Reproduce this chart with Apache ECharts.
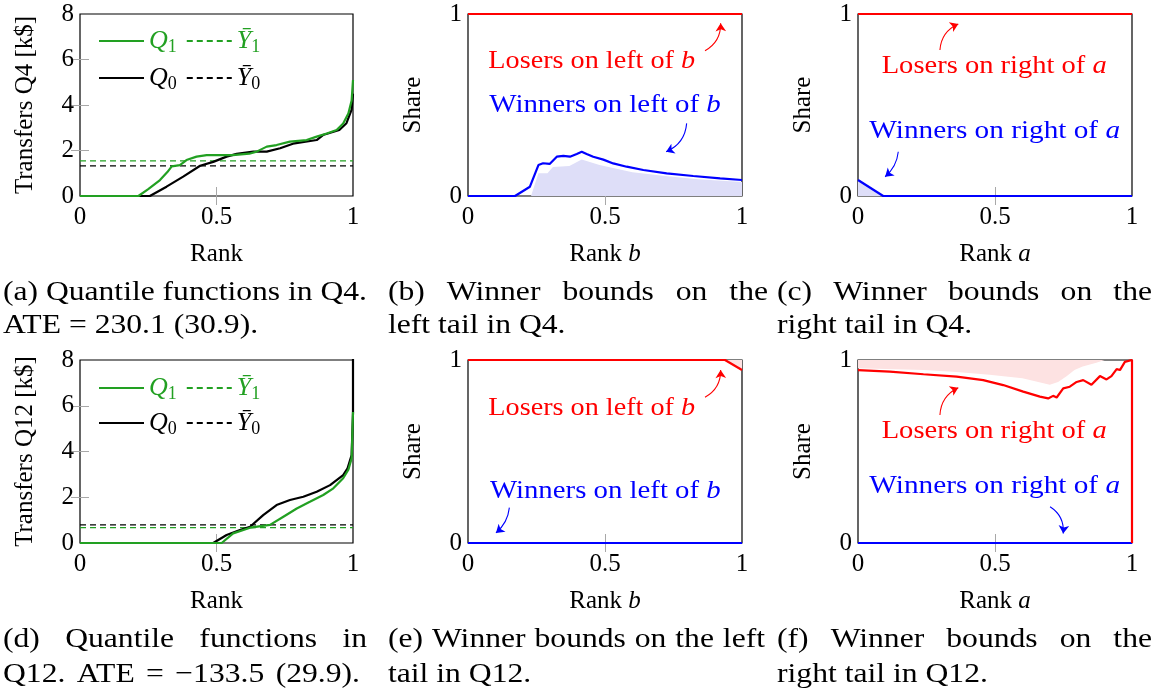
<!DOCTYPE html>
<html><head><meta charset="utf-8">
<script src="https://cdn.jsdelivr.net/npm/echarts@6/dist/echarts.min.js"></script>
<style>html,body{margin:0;padding:0;background:#fff}#c{width:1157px;height:694px}</style>
</head><body><div id="c"></div>
<script>
// ---------------- DATA ----------------
const rankTicks = [0, 0.5, 1];
const transferTicks = [0, 2, 4, 6, 8];
const shareTicks = [0, 1];

// (a) Quantile functions in Q4  [rank, k$]
const q4Q1 = [[0,0],[0.214,0],[0.25,0.3],[0.293,0.70],[0.32,1.05],[0.336,1.30],[0.366,1.36],[0.39,1.58],[0.427,1.73],[0.464,1.80],[0.56,1.80],[0.62,1.86],[0.647,1.95],[0.684,2.17],[0.72,2.24],[0.769,2.39],[0.83,2.46],[0.867,2.61],[0.904,2.75],[0.94,2.90],[0.964,3.19],[0.983,3.63],[0.995,4.20],[1,5.10]];
const q4Q0 = [[0,0],[0.256,0],[0.317,0.41],[0.378,0.85],[0.44,1.33],[0.488,1.50],[0.537,1.73],[0.574,1.85],[0.635,1.95],[0.684,1.95],[0.733,2.10],[0.78,2.30],[0.867,2.46],[0.89,2.68],[0.95,2.90],[0.976,3.20],[0.995,3.80],[1,4.50]];
const q4Ybar1 = 1.54;
const q4Ybar0 = 1.32;

// (b) Winner bounds, left tail, Q4  [rank b, share]
const q4LeftWinners = [[0,0],[0.1715,0],[0.226,0.051],[0.257,0.17],[0.274,0.18],[0.298,0.176],[0.324,0.216],[0.348,0.22],[0.372,0.216],[0.397,0.231],[0.415,0.243],[0.433,0.231],[0.457,0.216],[0.494,0.2],[0.53,0.179],[0.579,0.161],[0.64,0.143],[0.725,0.124],[0.822,0.11],[0.92,0.097],[1,0.088]];
const q4LeftWinnersLow = [[0.23,0],[0.257,0.125],[0.29,0.125],[0.31,0.16],[0.37,0.165],[0.415,0.2],[0.48,0.17],[0.6,0.13],[0.72,0.11],[0.84,0.092],[1,0.077]];
const q4LeftLosers = [[0,1],[1,1]];

// (c) Winner bounds, right tail, Q4  [rank a, share]
const q4RightWinners = [[0,0.088],[0.092,0],[1,0]];
const q4RightWinnersLow = [[0,0.088],[0.092,0]];
const q4RightLosers = [[0,1],[1,1]];

// (d) Quantile functions in Q12
const q12Q1 = [[0,0],[0.519,0],[0.561,0.42],[0.623,0.67],[0.696,0.79],[0.745,1.15],[0.794,1.51],[0.842,1.80],[0.891,2.10],[0.928,2.39],[0.964,2.83],[0.983,3.20],[0.995,3.70],[1,5.73]];
const q12Q0 = [[0,0],[0.488,0],[0.537,0.35],[0.586,0.57],[0.623,0.71],[0.671,1.22],[0.72,1.66],[0.769,1.88],[0.818,2.02],[0.867,2.24],[0.916,2.53],[0.964,2.97],[0.98,3.26],[0.995,3.84],[1,5.7],[1,9]];
const q12Ybar1 = 0.67;
const q12Ybar0 = 0.79;

// (e) Winner bounds, left tail, Q12
const q12LeftLosers = [[0,1],[0.938,1],[1,0.945]];
const q12LeftWinners = [[0,0],[1,0]];

// (f) Winner bounds, right tail, Q12
const q12RightLosers = [[0,0.945],[0.116,0.936],[0.239,0.922],[0.36,0.909],[0.457,0.89],[0.53,0.863],[0.603,0.827],[0.664,0.8],[0.694,0.79],[0.712,0.804],[0.725,0.795],[0.749,0.845],[0.773,0.854],[0.798,0.88],[0.822,0.89],[0.852,0.865],[0.883,0.912],[0.907,0.894],[0.925,0.912],[0.944,0.95],[0.956,0.945],[0.974,0.99],[0.98,1],[1,1],[1,0]];
const q12RightLosersHigh = [[0,0.955],[0.24,0.945],[0.36,0.935],[0.48,0.92],[0.6,0.9],[0.7,0.865],[0.73,0.88],[0.76,0.91],[0.79,0.945],[0.82,0.965],[0.87,0.985],[0.9,1],[1,1]];
const q12RightWinners = [[0,0],[1,0]];

// ---------------- STYLE / LAYOUT ----------------
const FONT = 'Liberation Serif';
const GREEN = '#22a022', BLUE = '#0000ff', RED = '#ff0000', BLACK = '#000';
const LAVENDER = '#dedef8', PINK = '#fde2e2', TICKGRAY = '#a8a8a8';

const grids = [
  {left:80, top:14, width:273, height:182},
  {left:468, top:14, width:274, height:182},
  {left:858, top:14, width:274, height:182},
  {left:80, top:360, width:273, height:183},
  {left:468, top:360, width:274, height:183},
  {left:858, top:360, width:274, height:183}
].map(g => Object.assign({show:true, borderColor:'#000', borderWidth:1.2, backgroundColor:'transparent', containLabel:false}, g));

const panelCfg = [
  {yMax:8, yInt:2, yInner:[2,4,6], xName:'{n|Rank}', yName:'Transfers Q4 [k$]'},
  {yMax:1, yInt:1, yInner:[], xName:'{n|Rank }{i|b}', yName:'Share'},
  {yMax:1, yInt:1, yInner:[], xName:'{n|Rank }{i|a}', yName:'Share'},
  {yMax:8, yInt:2, yInner:[2,4,6], xName:'{n|Rank}', yName:'Transfers Q12 [k$]'},
  {yMax:1, yInt:1, yInner:[], xName:'{n|Rank }{i|b}', yName:'Share'},
  {yMax:1, yInt:1, yInner:[], xName:'{n|Rank }{i|a}', yName:'Share'}
];

const tickStyle = {color:TICKGRAY, width:1};
const xAxes = [], yAxes = [];
panelCfg.forEach((p, gi) => {
  const base = {gridIndex:gi, type:'value', min:0, max:1, interval:0.5, splitLine:{show:false}, axisLine:{show:false}};
  xAxes.push(Object.assign({}, base, {
    position:'bottom',
    axisTick:{show:true, inside:true, length:9, lineStyle:tickStyle, customValues:[0.5]},
    axisLabel:{margin:9, fontFamily:FONT, fontSize:25, color:'#000', formatter: v => String(v), customValues: rankTicks},
    name:p.xName, nameLocation:'middle', nameGap:46,
    nameTextStyle:{fontFamily:FONT, fontSize:25, color:'#000',
      rich:{n:{fontFamily:FONT, fontSize:25, color:'#000'}, i:{fontFamily:FONT, fontSize:25, fontStyle:'italic', color:'#000'}}}
  }));
  xAxes.push(Object.assign({}, base, {
    position:'top',
    axisTick:{show:true, inside:true, length:9, lineStyle:tickStyle, customValues:[0.5]},
    axisLabel:{show:false}
  }));
  const ybase = {gridIndex:gi, type:'value', min:0, max:p.yMax, interval:p.yInt, splitLine:{show:false}, axisLine:{show:false}};
  const ticks = p.yMax === 8 ? transferTicks : shareTicks;
  yAxes.push(Object.assign({}, ybase, {
    position:'left',
    axisTick:{show:p.yInner.length>0, inside:true, length:9, lineStyle:tickStyle, customValues:p.yInner},
    axisLabel:{margin:6, fontFamily:FONT, fontSize:25, color:'#000', customValues: ticks},
    name:p.yName, nameLocation:'middle', nameGap:42, nameRotate:90,
    nameTextStyle:{fontFamily:FONT, fontSize:25, color:'#000'}
  }));
  yAxes.push(Object.assign({}, ybase, {
    position:'right',
    axisTick:{show:p.yInner.length>0, inside:true, length:9, lineStyle:tickStyle, customValues:p.yInner},
    axisLabel:{show:false}
  }));
});

function lineS(name, gi, data, color, extra) {
  return Object.assign({
    type:'line', name: name, xAxisIndex:2*gi, yAxisIndex:2*gi, data: data,
    symbol:'none', showSymbol:false, silent:true, animation:false, z:3,
    lineStyle:{color:color, width:2.2}, itemStyle:{color:color}
  }, extra || {});
}
function fillS(gi, data, color, origin) {
  return {type:'line', xAxisIndex:2*gi, yAxisIndex:2*gi, data:data, symbol:'none', silent:true, animation:false, z:1,
    lineStyle:{width:0, color:color}, itemStyle:{color:color},
    areaStyle:{color:color, opacity:1, origin: origin || 'auto'}};
}
const dashStyle = {width:1.3, type:[6,4]};
function hline(v){ return [[0, v], [1, v]]; }

function arrowS(gi, from, to, color, curv) {
  return {type:'lines', coordinateSystem:'cartesian2d', xAxisIndex:2*gi, yAxisIndex:2*gi,
    symbol:['none','arrow'], symbolSize:[1,8], silent:true, animation:false, z:5,
    lineStyle:{width:1.1, color:color, opacity:1, curveness:curv},
    data:[{coords:[from, to]}]};
}

const series = [
  // (a)
  lineS('Ybar1', 0, hline(q4Ybar1), GREEN, {lineStyle:Object.assign({color:GREEN}, dashStyle)}),
  lineS('Ybar0', 0, hline(q4Ybar0), BLACK, {lineStyle:Object.assign({color:BLACK}, dashStyle)}),
  lineS('Q0', 0, q4Q0, BLACK),
  lineS('Q1', 0, q4Q1, GREEN),
  // (b)
  fillS(1, q4LeftWinnersLow, LAVENDER),
  lineS('Winners on left of b (Q4)', 1, q4LeftWinners, BLUE),
  lineS('Losers on left of b (Q4)', 1, q4LeftLosers, RED),
  arrowS(1, [0.865,0.798], [0.922,0.949], RED, -0.3),
  arrowS(1, [0.798,0.399], [0.723,0.243], BLUE, 0.3),
  // (c)
  fillS(2, q4RightWinnersLow, LAVENDER),
  lineS('Winners on right of a (Q4)', 2, q4RightWinners, BLUE),
  lineS('Losers on right of a (Q4)', 2, q4RightLosers, RED),
  arrowS(2, [0.299,0.802], [0.366,0.945], RED, 0.3),
  arrowS(2, [0.147,0.243], [0.099,0.106], BLUE, 0.2),
  // (d)
  lineS('Ybar1', 3, hline(q12Ybar1), GREEN, {lineStyle:Object.assign({color:GREEN}, dashStyle)}),
  lineS('Ybar0', 3, hline(q12Ybar0), BLACK, {lineStyle:Object.assign({color:BLACK}, dashStyle)}),
  lineS('Q0', 3, q12Q0, BLACK),
  lineS('Q1', 3, q12Q1, GREEN),
  // (e)
  fillS(4, q12LeftLosers, PINK, 'end'),
  lineS('Winners on left of b (Q12)', 4, q12LeftWinners, BLUE),
  lineS('Losers on left of b (Q12)', 4, q12LeftLosers, RED),
  arrowS(4, [0.865,0.796], [0.922,0.945], RED, -0.3),
  arrowS(4, [0.151,0.193], [0.102,0.055], BLUE, 0.2),
  // (f)
  fillS(5, q12RightLosersHigh, PINK, 'end'),
  lineS('Winners on right of a (Q12)', 5, q12RightWinners, BLUE),
  lineS('Losers on right of a (Q12)', 5, q12RightLosers, RED),
  arrowS(5, [0.299,0.699], [0.366,0.849], RED, 0.3),
  arrowS(5, [0.701,0.198], [0.749,0.052], BLUE, 0.3)
];

// legends
const legendText = {Q1:'{i|Q}{s|1}', Ybar1:'{i|Ȳ}{s|1}', Q0:'{i|Q}{s|0}', Ybar0:'{i|Ȳ}{s|0}'};
function legendC(top, names, color) {
  return {
    show:true, orient:'horizontal', left:98, top:top, padding:0, itemGap:9, itemWidth:45, itemHeight:14,
    selectedMode:false,
    itemStyle:{opacity:0, borderWidth:0},
    data: names.map(n => ({name:n, textStyle:{color:color}})),
    formatter: n => legendText[n],
    textStyle:{fontFamily:FONT, fontSize:26, color:color,
      rich:{
        i:{fontFamily:FONT, fontSize:26, fontStyle:'italic', lineHeight:30},
        s:{fontFamily:FONT, fontSize:18, lineHeight:20, verticalAlign:'bottom'}
      }}
  };
}
const legends = [
  legendC(28, ['Q1','Ybar1'], GREEN),
  legendC(65, ['Q0','Ybar0'], BLACK),
  legendC(375, ['Q1','Ybar1'], GREEN),
  legendC(410, ['Q0','Ybar0'], BLACK)
];

// text measurement
const mctx = document.createElement('canvas').getContext('2d');
function tw(str, size, italic) {
  mctx.font = (italic ? 'italic ' : '') + size + 'px "' + FONT + '"';
  return mctx.measureText(str).width;
}

// annotations (pixel layout)
const annotations = [
  {t:'Losers on left of ', m:'b', c:RED, cx:591.7, cy:61.7, w:206.7},
  {t:'Winners on left of ', m:'b', c:BLUE, cx:605, cy:105, w:231.4},
  {t:'Losers on right of ', m:'a', c:RED, cx:994.2, cy:66.7, w:225},
  {t:'Winners on right of ', m:'a', c:BLUE, cx:994.7, cy:131, w:250.7},
  {t:'Losers on left of ', m:'b', c:RED, cx:591.7, cy:408, w:206.7},
  {t:'Winners on left of ', m:'b', c:BLUE, cx:605.3, cy:491, w:230.7},
  {t:'Losers on right of ', m:'a', c:RED, cx:994.2, cy:431.7, w:225},
  {t:'Winners on right of ', m:'a', c:BLUE, cx:994.7, cy:486.7, w:250.7}
];
const ANN = 25;
const graphics = [];
annotations.forEach(a => {
  const nat = tw(a.t, ANN, false) + tw(a.m, ANN, true);
  const s = a.w / nat;
  graphics.push({type:'text', x:a.cx, y:a.cy, scaleX:s, silent:true, z:10,
    style:{text:'{t|' + a.t + '}{m|' + a.m + '}', align:'center', verticalAlign:'middle', textAlign:'center', textVerticalAlign:'middle',
      rich:{t:{fontFamily:FONT, fontSize:ANN, fill:a.c, color:a.c}, m:{fontFamily:FONT, fontSize:ANN, fontStyle:'italic', fill:a.c, color:a.c}}}});
});

// captions (justified like LaTeX subcaptions; last lines ragged)
const CAP = 28, HSCALE = 1.13;
const captions = [
  ['(a) Quantile functions in Q4.', 3, 367, 293, true],
  ['ATE = 230.1 (30.9).', 3, 0, 326, false],
  ['(b) Winner bounds on the', 388, 768, 293, true],
  ['left tail in Q4.', 388, 0, 326, false],
  ['(c) Winner bounds on the', 777, 1152, 293, true],
  ['right tail in Q4.', 777, 0, 326, false],
  ['(d) Quantile functions in', 3, 367, 640, true],
  ['Q12. ATE = \u2212133.5 (29.9).', 3, 360, 675, true],
  ['(e) Winner bounds on the left', 388, 765, 640, true],
  ['tail in Q12.', 388, 0, 675, false],
  ['(f) Winner bounds on the', 777, 1152, 640, true],
  ['right tail in Q12.', 777, 0, 675, false]
];
function capText(txt, x, y, s) {
  return {type:'text', x:x, y:y, scaleX:s, silent:true, z:10,
    style:{text:'{c|' + txt + '}', align:'left', verticalAlign:'middle', textAlign:'left', textVerticalAlign:'middle',
      rich:{c:{fontFamily:FONT, fontSize:CAP, fill:'#000', color:'#000'}}}};
}
captions.forEach(([txt, L, R, y, just]) => {
  if (!just) {
    graphics.push(capText(txt, L, y, HSCALE));
    return;
  }
  const words = txt.split(' ');
  const natural = tw(txt, CAP, false);
  const ws = words.map(w => tw(w, CAP, false));
  const sum = ws.reduce((a,b)=>a+b, 0);
  const s = Math.min(HSCALE, (R-L)/natural);
  const gap = ((R-L) - sum*s) / (words.length - 1);
  let x = L;
  words.forEach((w, i) => {
    graphics.push(capText(w, x, y, s));
    x += ws[i]*s + gap;
  });
});

const chart = echarts.init(document.getElementById('c'), null, {renderer:'canvas'});
chart.setOption({
  animation:false,
  backgroundColor:'#fff',
  grid: grids,
  xAxis: xAxes,
  yAxis: yAxes,
  legend: legends,
  series: series,
  graphic: graphics
});
</script>
</body></html>
